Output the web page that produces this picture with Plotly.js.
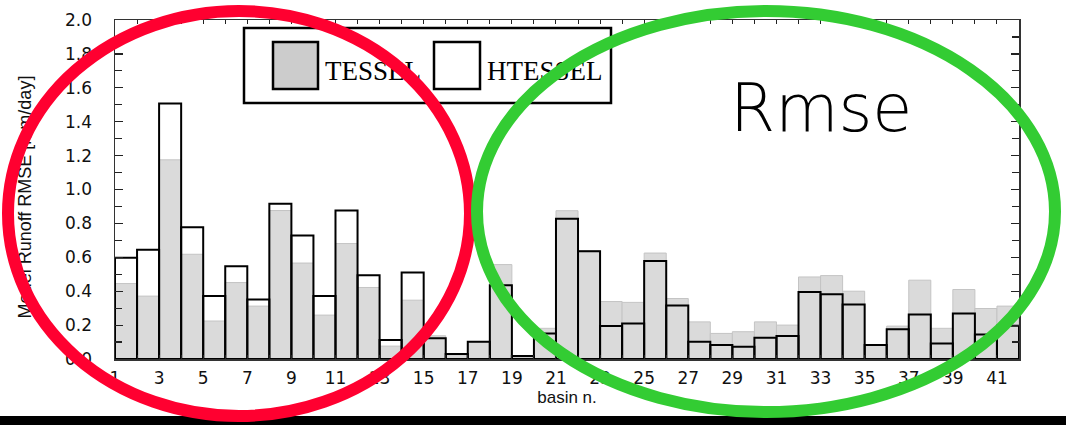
<!DOCTYPE html>
<html>
<head>
<meta charset="utf-8">
<script src="https://cdn.plot.ly/plotly-3.0.1.min.js"></script>
<style>
html,body{margin:0;padding:0;background:#fff;}
#chart{width:1066px;height:425px;}
</style>
</head>
<body>
<div id="chart"></div>
<script>
// ---- data ----
const basins = [1,2,3,4,5,6,7,8,9,10,11,12,13,14,15,16,17,18,19,20,21,22,23,24,25,26,27,28,29,30,31,32,33,34,35,36,37,38,39,40,41];
const tesselRmse = [0.445,0.371,1.175,0.618,0.224,0.451,0.312,0.876,0.566,0.259,0.681,0.422,0.076,0.347,0.137,0.025,0.098,0.557,0.012,0.181,0.875,0.640,0.339,0.334,0.625,0.357,0.219,0.151,0.161,0.219,0.200,0.484,0.492,0.400,0.080,0.194,0.465,0.181,0.410,0.298,0.312];
const htesselRmse = [0.598,0.645,1.508,0.778,0.371,0.547,0.351,0.916,0.728,0.371,0.876,0.494,0.112,0.510,0.122,0.029,0.102,0.435,0.018,0.151,0.828,0.635,0.194,0.210,0.578,0.316,0.102,0.082,0.072,0.125,0.135,0.396,0.382,0.322,0.082,0.175,0.263,0.092,0.269,0.145,0.196];
const seriesNames = ['TESSEL','HTESSEL'];
const xTickVals = [1,3,5,7,9,11,13,15,17,19,21,23,25,27,29,31,33,35,37,39,41];
const xTickText = ['1','3','5','7','9','11','13','15','17','19','21','23','25','27','29','31','33','35','37','39','41'];
const yTickVals = [0,0.2,0.4,0.6,0.8,1.0,1.2,1.4,1.6,1.8,2.0];
const yTickText = ['0.0','0.2','0.4','0.6','0.8','1.0','1.2','1.4','1.6','1.8','2.0'];
const yTitle = 'Model Runoff RMSE [mm/day]';
const xTitle = 'basin n.';
const noteText = 'Rmse';

// ---- layout helpers (pixel -> paper) ----
const L = 115, R = 1019, T = 20, B = 359;
const px = x => (x - L) / (R - L);
const py = y => (B - y) / (B - T);

const traces = [
  {type:'bar', name:seriesNames[0], x:basins, y:tesselRmse, width:1, offset:0,
   marker:{color:'#dadada', line:{color:'#c4c4c4', width:1}}, showlegend:false, hoverinfo:'x+y'},
  {type:'bar', name:seriesNames[1], x:basins, y:htesselRmse, width:1, offset:0,
   marker:{color:'rgba(0,0,0,0)', line:{color:'#000', width:2}}, showlegend:false, hoverinfo:'x+y'}
];

const shapes = [
  {type:'rect', xref:'paper', yref:'paper', x0:px(-10), x1:px(1080), y0:py(416), y1:py(440),
   fillcolor:'#000', line:{width:0}, layer:'above'},
  {type:'rect', xref:'paper', yref:'paper', x0:px(244), x1:px(611), y0:py(103), y1:py(28),
   fillcolor:'#fff', line:{color:'#000', width:2.5}, layer:'above'},
  {type:'rect', xref:'paper', yref:'paper', x0:px(273), x1:px(318), y0:py(89), y1:py(42),
   fillcolor:'#cccccc', line:{color:'#000', width:2.5}, layer:'above'},
  {type:'rect', xref:'paper', yref:'paper', x0:px(434), x1:px(480), y0:py(89), y1:py(42),
   fillcolor:'#fff', line:{color:'#000', width:2.5}, layer:'above'},
  {type:'rect', xref:'paper', yref:'paper', x0:px(322), x1:px(430), y0:py(86), y1:py(50),
   fillcolor:'rgba(0,0,0,0)', line:{width:0}, layer:'above',
   label:{text:seriesNames[0], textposition:'middle left', padding:0,
          font:{family:'Liberation Serif, Times New Roman, serif', size:27, color:'#000'}}},
  {type:'rect', xref:'paper', yref:'paper', x0:px(484), x1:px(600), y0:py(86), y1:py(50),
   fillcolor:'rgba(0,0,0,0)', line:{width:0}, layer:'above',
   label:{text:seriesNames[1], textposition:'middle left', padding:0,
          font:{family:'Liberation Serif, Times New Roman, serif', size:27, color:'#000'}}},
  {type:'rect', xref:'paper', yref:'paper', x0:px(13), x1:px(33), y0:py(330), y1:py(64),
   fillcolor:'rgba(0,0,0,0)', line:{width:0}, layer:'above',
   label:{text:yTitle, textangle:-90, textposition:'middle center', padding:0,
          font:{family:'Liberation Sans, Arial, sans-serif', size:18, color:'#111'}}},
  {type:'circle', xref:'paper', yref:'paper', x0:px(8), x1:px(470), y0:py(416), y1:py(11),
   fillcolor:'rgba(0,0,0,0)', line:{color:'#ff0030', width:12}, layer:'above'},
  {type:'circle', xref:'paper', yref:'paper', x0:px(477), x1:px(1055), y0:py(412), y1:py(11),
   fillcolor:'rgba(0,0,0,0)', line:{color:'#33cc33', width:12}, layer:'above'}
];

const layout = {
  width:1066, height:425,
  margin:{l:L, r:1066-R, t:T, b:425-B, pad:0},
  paper_bgcolor:'#fff', plot_bgcolor:'#fff',
  barmode:'overlay', bargap:0,
  showlegend:false,
  font:{family:'DejaVu Sans, sans-serif', color:'#111'},
  xaxis:{range:[1,42], tickvals:xTickVals, ticktext:xTickText, ticks:'inside', ticklen:4, tickwidth:1,
         tickcolor:'#222', showline:true, linecolor:'#333', linewidth:1.5, mirror:'ticks',
         showgrid:false, zeroline:false, ticklabelstandoff:3,
         minor:{dtick:1, tick0:0, ticks:'inside', ticklen:4, tickcolor:'#222', showgrid:false},
         tickfont:{family:'DejaVu Sans, sans-serif', size:17, color:'#111'},
         title:{text:xTitle, standoff:3, font:{family:'Liberation Sans, Arial, sans-serif', size:17, color:'#111'}}},
  yaxis:{range:[0,2], tickvals:yTickVals, ticktext:yTickText, ticks:'inside', ticklen:8, tickwidth:1.2,
         tickcolor:'#222', showline:true, linecolor:'#333', linewidth:1.5, mirror:'ticks',
         showgrid:false, zeroline:false, ticklabelstandoff:18,
         minor:{dtick:0.1, tick0:0, ticks:'inside', ticklen:7, tickcolor:'#222', showgrid:false},
         tickfont:{family:'DejaVu Sans, sans-serif', size:17, color:'#111'}},
  shapes:shapes,
  annotations:[
    {text:noteText, xref:'paper', yref:'paper', x:px(821), y:py(108), xanchor:'center', yanchor:'middle',
     showarrow:false, font:{family:'DejaVu Sans, sans-serif', size:65, color:'#000', weight:300}}
  ]
};

Plotly.newPlot('chart', traces, layout, {staticPlot:true, displayModeBar:false});
</script>
</body>
</html>
